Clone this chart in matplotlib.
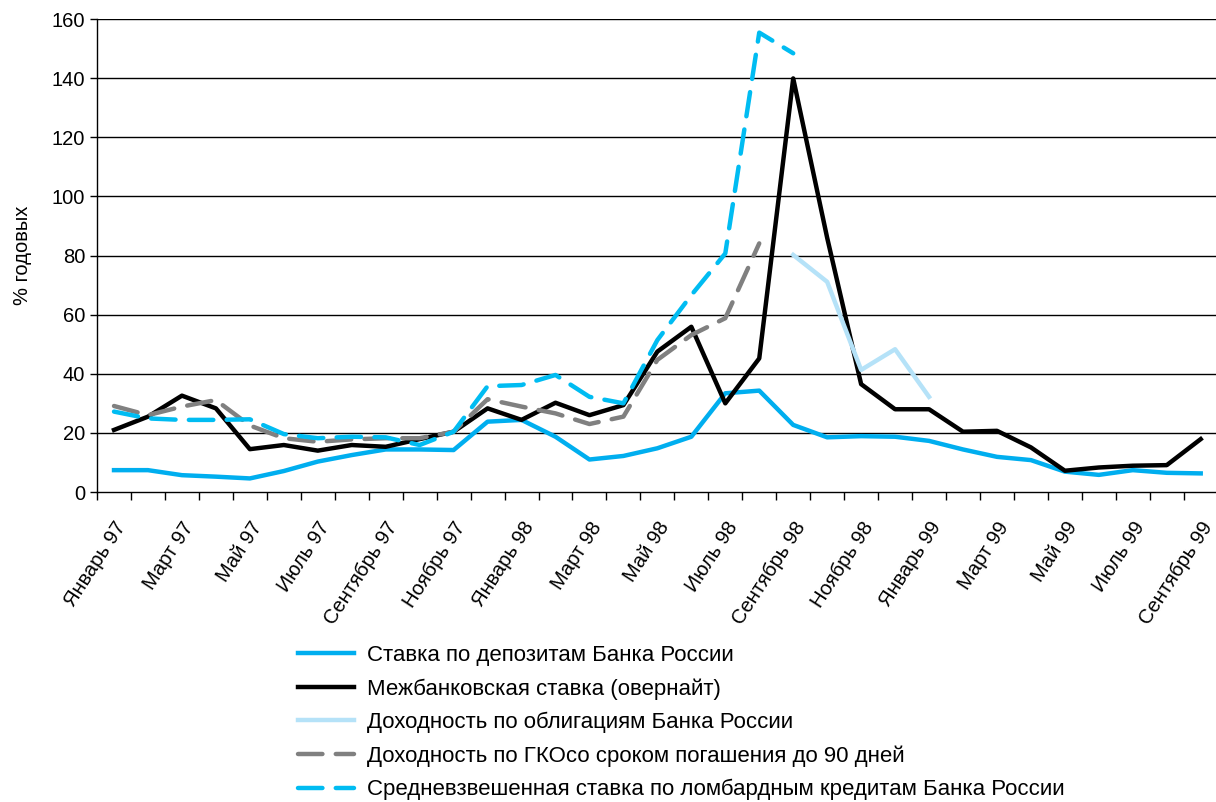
import matplotlib
matplotlib.use("Agg")
import matplotlib.pyplot as plt
import numpy as np

plt.rcParams['font.family'] = ['Liberation Sans', 'DejaVu Sans']

# месяцы: январь 1997 - сентябрь 1999
months = ['Январь 97', 'Февраль 97', 'Март 97', 'Апрель 97', 'Май 97', 'Июнь 97',
          'Июль 97', 'Август 97', 'Сентябрь 97', 'Октябрь 97', 'Ноябрь 97', 'Декабрь 97',
          'Январь 98', 'Февраль 98', 'Март 98', 'Апрель 98', 'Май 98', 'Июнь 98',
          'Июль 98', 'Август 98', 'Сентябрь 98', 'Октябрь 98', 'Ноябрь 98', 'Декабрь 98',
          'Январь 99', 'Февраль 99', 'Март 99', 'Апрель 99', 'Май 99', 'Июнь 99',
          'Июль 99', 'Август 99', 'Сентябрь 99']

deposit = [7.4, 7.4, 5.7, 5.2, 4.6, 7.1, 10.3, 12.5, 14.4, 14.4, 14.2, 23.8,
           24.4, 18.7, 11.0, 12.2, 14.8, 18.7, 33.4, 34.3, 22.7, 18.5, 18.9, 18.7,
           17.3, 14.4, 11.9, 10.8, 6.9, 5.8, 7.4, 6.5, 6.3]
interbank = [21.0, 25.5, 32.6, 28.3, 14.5, 15.9, 14.0, 15.9, 15.3, 17.9, 20.4, 28.3,
             24.4, 30.2, 26.0, 29.4, 47.5, 55.9, 30.0, 45.2, 139.9, 86.0, 36.5, 28.0,
             28.0, 20.4, 20.7, 15.1, 7.2, 8.3, 8.9, 9.1, 17.9]
bonds = [None] * 20 + [80.2, 71.1, 41.3, 48.3, 32.2] + [None] * 8
gko = [29.1, 26.0, 28.9, 31.1, 22.5, 18.2, 17.0, 17.8, 18.2, 18.2, 20.4, 31.4,
       28.9, 26.6, 23.0, 25.5, 44.7, 53.1, 58.8, 84.1] + [None] * 13
lombard = [27.2, 24.9, 24.4, 24.4, 24.6, 19.6, 18.2, 18.7, 18.5, 15.9, 20.4, 35.8,
           36.2, 39.6, 32.2, 30.0, 51.4, 66.6, 80.7, 155.4, 148.4] + [None] * 12

labels = ['Ставка по депозитам Банка России',
          'Межбанковская ставка (овернайт)',
          'Доходность по облигациям Банка России',
          'Доходность по ГКОсо сроком погашения до 90 дней',
          'Средневзвешенная ставка по ломбардным кредитам Банка России']


def arr(v):
    return np.array([np.nan if a is None else a for a in v], dtype=float)


x = np.arange(len(months))

fig = plt.figure(figsize=(12.16, 8.02), dpi=100)
ax = fig.add_axes([0.0798, 0.3865, 0.9202, 0.5898])

for yv in range(20, 161, 20):
    ax.axhline(yv, color='black', lw=1.0, zorder=0)

lw = 3.2
ax.plot(x, arr(deposit), color='#00AEEF', lw=lw, label=labels[0])
ax.plot(x, arr(interbank), color='black', lw=lw, label=labels[1])
ax.plot(x, arr(bonds), color='#B5E2F8', lw=lw, label=labels[2])
ax.plot(x, arr(gko), color='#808080', lw=lw, dashes=(5.5, 3), dash_capstyle='round',
        label=labels[3])
ax.plot(x, arr(lombard), color='#00BCF2', lw=lw, dashes=(5.5, 3), dash_capstyle='round',
        label=labels[4])

ax.set_xlim(-0.5, 32.45)
ax.set_ylim(0, 160)
ax.set_yticks(range(0, 161, 20))
ax.tick_params(axis='y', labelsize=14.5, length=5, width=1, direction='out')

ax.set_xticks(x[::2])
ax.set_xticklabels(months[::2], rotation=57, ha='right', rotation_mode='anchor', fontsize=14.5)
ax.set_xticks(np.arange(-0.5, 32.5, 1), minor=True)
ax.tick_params(axis='x', which='major', length=0, pad=19)
ax.tick_params(axis='x', which='minor', length=6, width=1, direction='out')

for s in ['top', 'right']:
    ax.spines[s].set_visible(False)
ax.spines['left'].set_linewidth(1)
ax.spines['bottom'].set_linewidth(1)

ax.set_ylabel('% годовых', fontsize=14.5, labelpad=14)

handles, labs = ax.get_legend_handles_labels()
fig.legend(handles, labs, loc='upper left', bbox_to_anchor=(0.238, 0.207),
           frameon=False, fontsize=16, handlelength=2.5, labelspacing=0.55,
           handletextpad=0.6, borderaxespad=0)

fig.savefig('out.png', dpi=100)
